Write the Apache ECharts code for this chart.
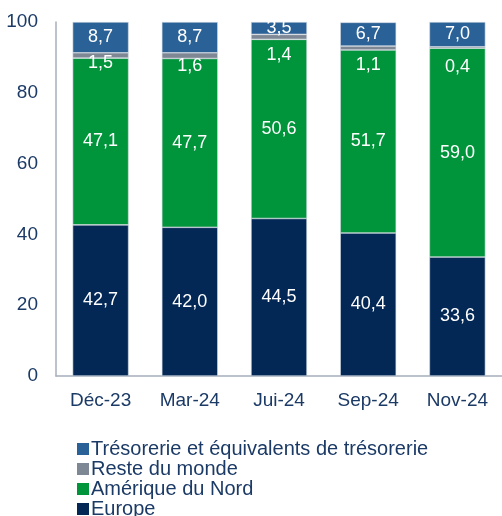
<!DOCTYPE html>
<html>
<head>
<meta charset="utf-8">
<script src="https://cdn.jsdelivr.net/npm/echarts@6/dist/echarts.min.js"></script>
<style>
  html, body { margin: 0; padding: 0; background: #fff; }
  #chart { width: 502px; height: 516px; }
</style>
</head>
<body>
<div id="chart"></div>
<script>
// catégories et valeurs (en %)
const categories = ['Déc-23', 'Mar-24', 'Jui-24', 'Sep-24', 'Nov-24'];
const europe = [42.7, 42.0, 44.5, 40.4, 33.6];
const ameriqueNord = [47.1, 47.7, 50.6, 51.7, 59.0];
const resteMonde = [1.5, 1.6, 1.4, 1.1, 0.4];
const tresorerie = [8.7, 8.7, 3.5, 6.7, 7.0];
const yTicks = [0, 20, 40, 60, 80, 100];

// décalage vertical des étiquettes "Reste du monde" (placées sous le segment)
const resteLabelDy = [8, 10, 18, 17, 20];

const textColor = '#1b3a66';
const fmt = (v) => v.toFixed(1).replace('.', ',');

const chart = echarts.init(document.getElementById('chart'));

const baseLabel = {
  show: true,
  color: '#fff',
  fontFamily: 'Liberation Sans',
  fontSize: 18,
  formatter: (p) => fmt(p.value)
};

const mkSeries = (name, data, color) => ({
  name,
  type: 'bar',
  stack: 'total',
  barWidth: 56,
  data,
  itemStyle: { color, borderColor: '#d3dae3', borderWidth: 0.6 },
  label: baseLabel
});

chart.setOption({
  animation: false,
  textStyle: { fontFamily: 'Liberation Sans' },
  grid: { left: 56, right: -6, top: 22, bottom: 140 },
  legend: {
    orient: 'vertical',
    left: 72,
    top: 434,
    height: 90,
    itemWidth: 12,
    itemHeight: 12,
    itemGap: 0,
    icon: 'rect',
    itemStyle: { borderWidth: 0 },
    textStyle: { color: textColor, fontSize: 20, lineHeight: 19.5, padding: [0, 0, 0, -3] },
    data: ['Trésorerie et équivalents de trésorerie', 'Reste du monde', 'Amérique du Nord', 'Europe']
  },
  xAxis: {
    type: 'category',
    data: categories,
    axisTick: { show: false },
    axisLine: { lineStyle: { color: '#a7afbb', width: 1.5 } },
    axisLabel: { color: textColor, fontSize: 19, margin: 15 }
  },
  yAxis: {
    type: 'value',
    min: 0,
    max: 100,
    interval: 20,
    axisLine: { show: true, lineStyle: { color: '#a7afbb', width: 1.5 } },
    axisTick: { show: false },
    splitLine: { show: false },
    axisLabel: {
      color: textColor,
      fontSize: 19,
      margin: 18,
      formatter: (v) => (yTicks.includes(v) ? String(v) : '')
    }
  },
  series: [
    mkSeries('Europe', europe, '#032856'),
    mkSeries('Amérique du Nord', ameriqueNord, '#00953a'),
    mkSeries('Reste du monde', resteMonde.map((v, i) => ({
      value: v,
      label: { offset: [0, resteLabelDy[i]] }
    })), '#7d8894'),
    mkSeries('Trésorerie et équivalents de trésorerie', tresorerie, '#2a6196')
  ]
});
</script>
</body>
</html>
